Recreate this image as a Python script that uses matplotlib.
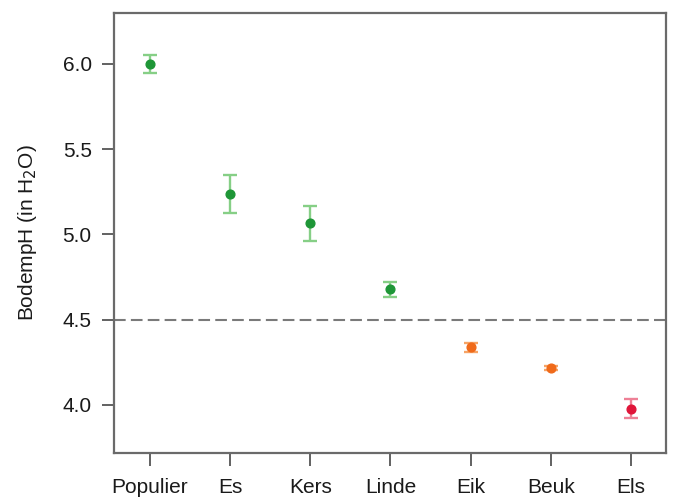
import matplotlib.pyplot as plt

plt.rcParams["font.family"] = ["Liberation Sans", "DejaVu Sans"]

# data
species = ["Populier", "Es", "Kers", "Linde", "Eik", "Beuk", "Els"]
ph_mean = [6.00, 5.236, 5.066, 4.679, 4.338, 4.215, 3.979]
ph_err = [0.053, 0.112, 0.102, 0.043, 0.028, 0.012, 0.057]
point_colors = ["#1e9637", "#1e9637", "#1e9637", "#1e9637", "#f06a1a", "#f06a1a", "#e0163a"]
bar_colors = ["#86cf86", "#86cf86", "#86cf86", "#86cf86", "#f6a466", "#f6a466", "#ee8096"]
threshold = 4.5

fig = plt.figure(figsize=(6.76, 5.01), dpi=100)
ax = fig.add_axes([114 / 676, 1 - 453 / 501, (666 - 114) / 676, (453 - 13) / 501])

x = list(range(1, len(species) + 1))
for xi, m, e, pc, bc in zip(x, ph_mean, ph_err, point_colors, bar_colors):
    ax.errorbar(xi, m, yerr=e, fmt="none", ecolor=bc, elinewidth=1.7,
                capsize=4.8, capthick=1.7, zorder=2)
    ax.plot(xi, m, "o", color=pc, markersize=6.3, zorder=3)

ax.axhline(threshold, color="#7a7a7a", linestyle=(0, (5.6, 2.5)), linewidth=1.5, zorder=1)

ax.set_xlim(0.551, 7.437)
ax.set_ylim(3.718, 6.299)
ax.set_xticks(x)
ax.set_xticklabels(species)
ax.set_yticks([4.0, 4.5, 5.0, 5.5, 6.0])
ax.set_yticklabels(["4.0", "4.5", "5.0", "5.5", "6.0"])

for s in ax.spines.values():
    s.set_color("#6a6a6a")
    s.set_linewidth(1.6)

ax.tick_params(axis="both", colors="#555555", labelcolor="#1a1a1a", labelsize=15,
               width=1.3, length=9)
ax.tick_params(axis="x", pad=9)
ax.tick_params(axis="y", pad=7)

ax.set_ylabel("BodempH (in H$_2$O)", fontsize=15, color="#1a1a1a", labelpad=17)

fig.savefig("out.png", dpi=100)
